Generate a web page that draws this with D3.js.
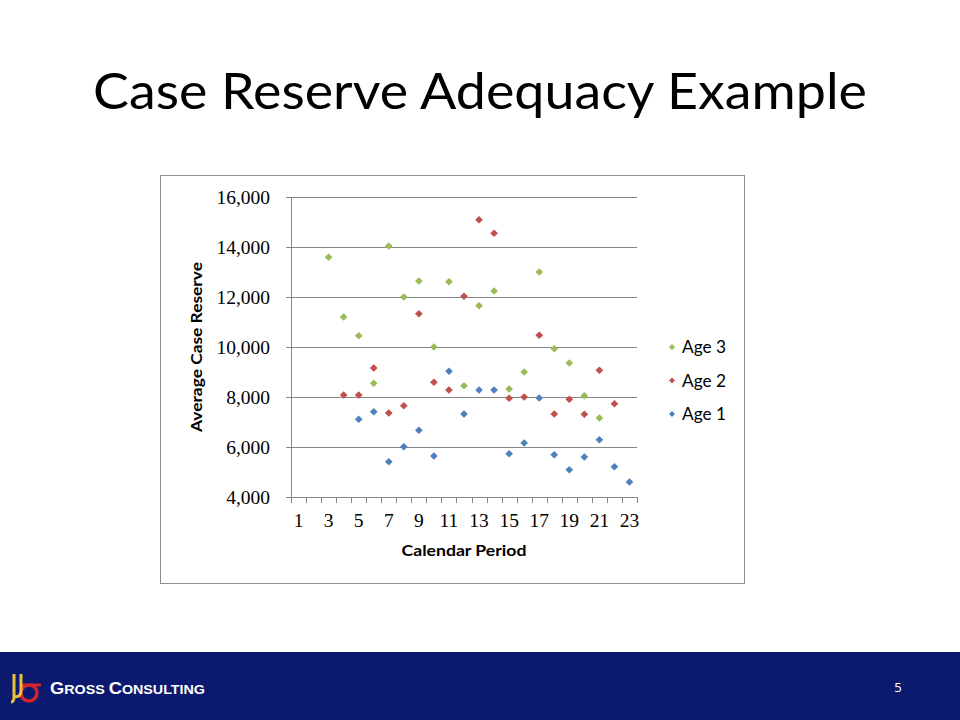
<!DOCTYPE html>
<html>
<head>
<meta charset="utf-8">
<script src="https://cdn.jsdelivr.net/npm/d3@7"></script>
<style>
  body { margin: 0; background: #fff; }
  svg { display: block; }
</style>
</head>
<body>
<div id="slide"></div>
<script>
// chart values
var periods = ["1","2","3","4","5","6","7","8","9","10","11","12","13","14","15","16","17","18","19","20","21","22","23"];
var tickLabels = ["1","3","5","7","9","11","13","15","17","19","21","23"];
var yTicks = [4000, 6000, 8000, 10000, 12000, 14000, 16000];
var age3 = [null, null, 13590, 11200, 10450, 8550, 14040, 12000, 12640, 10000, 12610, 8450, 11650, 12240, 8320, 9000, 13000, 9930, 9360, 8050, 7160, null, null];
var age2 = [null, null, null, 8080, 8080, 9160, 7360, 7650, 11330, 8590, 8280, 12030, 15090, 14550, 7950, 8000, 10470, 7320, 7910, 7310, 9070, 7730, null];
var age1 = [null, null, null, null, 7110, 7410, 5410, 6010, 6670, 5640, 9030, 7320, 8280, 8280, 5730, 6160, 7960, 5690, 5090, 5600, 6290, 5210, 4600];
var seriesNames = ["Age 3", "Age 2", "Age 1"];
var seriesColors = ["#9BBB59", "#C0504D", "#4F81BD"];

var svgWidth = 960;
var svgHeight = 720;

var svg = d3.select("#slide")
  .append("svg")
  .attr("width", svgWidth)
  .attr("height", svgHeight);

// title
svg.append("text")
  .attr("x", 480)
  .attr("y", 109)
  .attr("text-anchor", "middle")
  .attr("textLength", 774)
  .attr("lengthAdjust", "spacingAndGlyphs")
  .style("font-family", "Lato, 'Open Sans', sans-serif")
  .style("font-size", "50px")
  .style("fill", "#000")
  .text("Case Reserve Adequacy Example");

// chart frame
svg.append("rect")
  .attr("x", 160.5)
  .attr("y", 175.5)
  .attr("width", 584)
  .attr("height", 408)
  .attr("fill", "#fff")
  .attr("stroke", "#8c8c8c")
  .attr("stroke-width", 1);

var plot = { left: 291, right: 637, top: 197, bottom: 497 };

var x = d3.scaleBand()
  .domain(periods)
  .range([plot.left, plot.right])
  .paddingInner(0)
  .paddingOuter(0);

var y = d3.scaleLinear()
  .domain([4000, 16000])
  .range([plot.bottom, plot.top]);

// gridlines + y axis
var leftAxis = d3.axisLeft(y)
  .tickValues(yTicks)
  .tickSize(-(plot.right - plot.left))
  .tickPadding(21)
  .tickFormat(d3.format(","));

var yAxisG = svg.append("g")
  .attr("transform", `translate(${plot.left}, 0)`)
  .call(leftAxis);

yAxisG.select(".domain").remove();
yAxisG.selectAll(".tick line")
  .attr("x1", -5)
  .attr("stroke", "#868686");
yAxisG.selectAll(".tick text")
  .style("font-family", "'Liberation Serif', serif")
  .style("font-size", "19.5px")
  .style("fill", "#000");

svg.append("line")
  .attr("x1", plot.left + 0.5).attr("x2", plot.left + 0.5)
  .attr("y1", plot.top).attr("y2", plot.bottom)
  .attr("stroke", "#868686");

// x axis (category, ticks between bands)
var bottomAxis = d3.axisBottom(x)
  .tickSize(0)
  .tickPadding(16)
  .tickFormat(d => tickLabels.indexOf(d) >= 0 ? d : "");

var xAxisG = svg.append("g")
  .attr("transform", `translate(0, ${plot.bottom})`)
  .call(bottomAxis);

xAxisG.select(".domain").attr("stroke", "#868686").attr("d", `M${plot.left},0.5H${plot.right}`);
xAxisG.selectAll(".tick text")
  .style("font-family", "'Liberation Serif', serif")
  .style("font-size", "19.5px")
  .style("fill", "#000");

var boundaries = periods.map(p => x(p)).concat([x(periods[periods.length - 1]) + x.bandwidth()]);
xAxisG.selectAll(".bound")
  .data(boundaries)
  .enter()
  .append("line")
  .attr("class", "bound")
  .attr("x1", d => Math.round(d) + 0.5)
  .attr("x2", d => Math.round(d) + 0.5)
  .attr("y1", 0)
  .attr("y2", 6)
  .attr("stroke", "#868686");

// axis titles
svg.append("text")
  .attr("transform", "translate(202, 347) rotate(-90)")
  .attr("text-anchor", "middle")
  .attr("textLength", 170)
  .attr("lengthAdjust", "spacingAndGlyphs")
  .style("font-family", "Lato, 'Open Sans', sans-serif")
  .style("font-weight", "bold")
  .style("font-size", "16px")
  .text("Average Case Reserve");

svg.append("text")
  .attr("x", 464)
  .attr("y", 556)
  .attr("text-anchor", "middle")
  .attr("textLength", 125)
  .attr("lengthAdjust", "spacingAndGlyphs")
  .style("font-family", "Lato, 'Open Sans', sans-serif")
  .style("font-weight", "bold")
  .style("font-size", "16px")
  .text("Calendar Period");

// markers
var diamond = d3.symbol().type(d3.symbolSquare).size(30);
var allSeries = [age3, age2, age1];

allSeries.forEach(function(vals, si) {
  var pts = periods.map((p, i) => ({ p: p, v: vals[i] })).filter(d => d.v !== null);
  svg.append("g").selectAll("path")
    .data(pts)
    .enter()
    .append("path")
    .attr("d", diamond)
    .attr("transform", d => `translate(${x(d.p) + x.bandwidth() / 2}, ${y(d.v)}) rotate(45)`)
    .attr("fill", seriesColors[si]);
});

// legend
var legend = svg.append("g").selectAll("g")
  .data(seriesNames)
  .enter()
  .append("g")
  .attr("transform", (d, i) => `translate(672, ${347 + i * 33.5})`);

legend.append("path")
  .attr("d", d3.symbol().type(d3.symbolSquare).size(18))
  .attr("transform", "rotate(45)")
  .attr("fill", (d, i) => seriesColors[i]);

legend.append("text")
  .attr("x", 10)
  .attr("y", 6)
  .attr("textLength", 44)
  .attr("lengthAdjust", "spacingAndGlyphs")
  .style("font-family", "Lato, 'Open Sans', sans-serif")
  .style("font-size", "17px")
  .text(d => d);

// footer band
svg.append("rect")
  .attr("x", 0)
  .attr("y", 652)
  .attr("width", 960)
  .attr("height", 68)
  .attr("fill", "#0b1a6e");

// little logo
var logo = svg.append("g").attr("transform", "translate(10, 673)");
logo.append("circle")
  .attr("cx", 19).attr("cy", 20).attr("r", 8)
  .attr("fill", "none").attr("stroke", "#d0262b").attr("stroke-width", 3.5);
logo.append("path")
  .attr("d", "M11,12 H31")
  .attr("stroke", "#d0262b").attr("stroke-width", 3);
logo.append("path")
  .attr("d", "M4,1 V26 M11,1 V18 Q11,24 4,24 M4,26 Q3,29 1,29")
  .attr("fill", "none").attr("stroke", "#e8c23a").attr("stroke-width", 3);

var brand = svg.append("text")
  .attr("x", 50)
  .attr("y", 694)
  .attr("textLength", 155)
  .attr("lengthAdjust", "spacingAndGlyphs")
  .style("font-family", "'Liberation Sans', sans-serif")
  .style("font-weight", "bold")
  .style("fill", "#fff");
brand.append("tspan").style("font-size", "16px").text("G");
brand.append("tspan").style("font-size", "12.5px").text("ROSS ");
brand.append("tspan").style("font-size", "16px").text("C");
brand.append("tspan").style("font-size", "12.5px").text("ONSULTING");

svg.append("text")
  .attr("x", 898)
  .attr("y", 692)
  .attr("text-anchor", "middle")
  .style("font-family", "'Open Sans', sans-serif")
  .style("font-size", "13px")
  .style("fill", "#fff")
  .text("5");
</script>
</body>
</html>
